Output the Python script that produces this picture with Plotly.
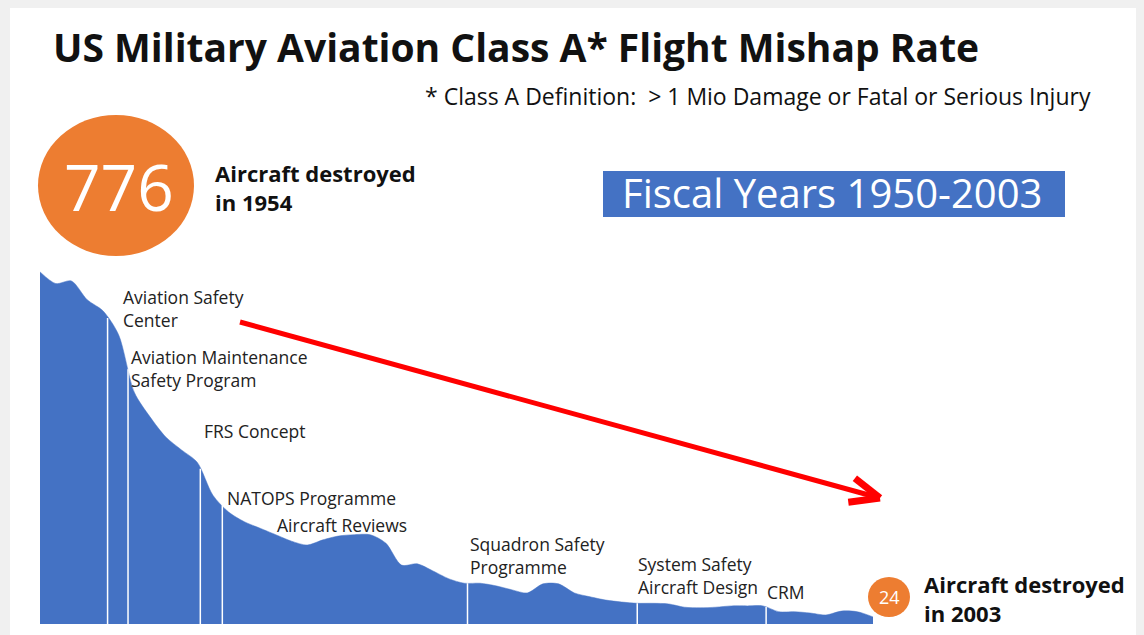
import math
import numpy as np
import plotly.graph_objects as go

# ---- data ----
years = list(range(1950, 2004))
mishap_rate = [54.4, 52.6, 53.0, 50.1, 48.4, 44.7, 35.8, 32.0, 28.9, 26.9,
               25.0, 19.9, 17.3, 15.8, 14.8, 13.8, 12.8, 12.2, 13.0, 13.6,
               13.8, 13.8, 12.5, 9.1, 9.3, 8.2, 7.0, 6.3, 6.3, 5.9,
               5.3, 4.8, 6.2, 6.2, 4.8, 4.2, 3.7, 3.4, 3.2, 3.2,
               3.1, 2.6, 2.5, 2.6, 2.8, 2.8, 2.8, 1.9, 1.9, 1.7,
               1.4, 2.0, 1.9, 1.1]
milestone_years = [1954.3, 1955.6, 1960.2, 1961.6, 1977.2, 1988.0, 1996.2]
milestone_labels = ["Aviation Safety<br>Center", "Aviation Maintenance<br>Safety Program",
                    "FRS Concept", "NATOPS Programme", "Aircraft Reviews",
                    "Squadron Safety<br>Programme", "System Safety<br>Aircraft Design", "CRM"]
destroyed_1954 = 776
destroyed_2003 = 24

OFF = 8  # page body margin
W, H = 1144 - OFF, 635 - OFF
BLUE = "#4472C4"
ORANGE = "#ED7D31"
FONT = "Open Sans"

def px(x):
    return (x - OFF) / W

def py(y):
    return 1 - (y - OFF) / H

fig = go.Figure()
fig.add_trace(go.Scatter(x=years, y=mishap_rate, mode="lines",
                         line=dict(shape="spline", width=0.5, color=BLUE, smoothing=0.8),
                         fill="tozeroy", fillcolor=BLUE, hoverinfo="x+y", showlegend=False))

shapes = []
shapes.append(dict(type="rect", xref="paper", yref="paper", x0=px(10), x1=1, y0=0, y1=1,
                   fillcolor="white", line=dict(width=0), layer="below"))
for my in milestone_years:
    top = float(np.interp(my, years, mishap_rate))
    shapes.append(dict(type="line", xref="x", yref="y", x0=my, x1=my, y0=0, y1=top,
                       line=dict(color="white", width=1.5)))
# circles
shapes.append(dict(type="circle", xref="paper", yref="paper", x0=px(38), x1=px(194), y0=py(256), y1=py(115),
                   fillcolor=ORANGE, line=dict(width=0)))
shapes.append(dict(type="circle", xref="paper", yref="paper", x0=px(868), x1=px(910), y0=py(617), y1=py(577),
                   fillcolor=ORANGE, line=dict(width=0)))
# blue box
shapes.append(dict(type="rect", xref="paper", yref="paper", x0=px(603), x1=px(1065), y0=py(217), y1=py(171),
                   fillcolor=BLUE, line=dict(width=0)))

# red arrow (shaft + head)
sx, sy, tx, ty = 240, 322, 880, 498
RED = "#FF0000"
shapes.append(dict(type="line", xref="paper", yref="paper", x0=px(sx), y0=py(sy), x1=px(tx - 4), y1=py(ty - 1),
                   line=dict(color=RED, width=5)))
ang = math.atan2(sy - ty, sx - tx)
for d in (-0.4, 0.4):
    ex = tx + 32 * math.cos(ang + d)
    ey = ty + 32 * math.sin(ang + d)
    shapes.append(dict(type="line", xref="paper", yref="paper", x0=px(tx), y0=py(ty), x1=px(ex), y1=py(ey),
                       line=dict(color=RED, width=7)))

ann = []
ann.append(dict(text="<b>US Military Aviation Class A* Flight Mishap Rate</b>", x=px(51), y=py(47),
                xanchor="left", yanchor="middle", font=dict(size=39, color="#111", family=FONT)))
ann.append(dict(text="* Class A Definition:  &gt; 1 Mio Damage or Fatal or Serious Injury", x=px(1093), y=py(96),
                xanchor="right", yanchor="middle", font=dict(size=23, color="#111", family=FONT)))
ann.append(dict(text=str(destroyed_1954), x=px(119), y=py(186), xanchor="center", yanchor="middle",
                font=dict(size=64, color="white", family=FONT)))
ann.append(dict(text="<b>Aircraft destroyed<br>in 1954</b>", x=px(213), y=py(188), xanchor="left", yanchor="middle",
                align="left", font=dict(size=22, color="#111", family=FONT)))
ann.append(dict(text="Fiscal Years 1950-2003", x=px(832), y=py(193), xanchor="center", yanchor="middle",
                font=dict(size=40, color="white", family=FONT)))
ann.append(dict(text=str(destroyed_2003), x=px(889), y=py(597), xanchor="center", yanchor="middle",
                font=dict(size=18, color="white", family=FONT)))
ann.append(dict(text="<b>Aircraft destroyed<br>in 2003</b>", x=px(922), y=py(598), xanchor="left", yanchor="middle",
                align="left", font=dict(size=22, color="#111", family=FONT)))

label_pos = [(121, 308), (129, 368), (202, 431), (225, 498), (275, 525), (468, 555), (636, 575), (765, 592)]
for lab, (lx, ly) in zip(milestone_labels, label_pos):
    ann.append(dict(text=lab, x=px(lx), y=py(ly), xanchor="left", yanchor="middle", align="left",
                    font=dict(size=17.5, color="#222", family=FONT)))

for a in ann:
    a.setdefault("xref", "paper")
    a.setdefault("yref", "paper")
    a.setdefault("showarrow", False)

ppy = 833 / 53
x0 = 1950 - (40 - OFF) / ppy
x1 = 2003 + (1144 - 873) / ppy
ppu = 356 / 55
fig.update_layout(
    width=W, height=H, margin=dict(l=0, r=0, t=0, b=0),
    paper_bgcolor="#f0f0f0", plot_bgcolor="rgba(0,0,0,0)",
    xaxis=dict(range=[x0, x1], visible=False, fixedrange=True),
    yaxis=dict(range=[-(635 - 624) / ppu, (624 - OFF) / ppu], visible=False, fixedrange=True),
    shapes=shapes, annotations=ann, showlegend=False,
)
fig.write_html("out.html", post_script="document.body.style.background='#f0f0f0';")
